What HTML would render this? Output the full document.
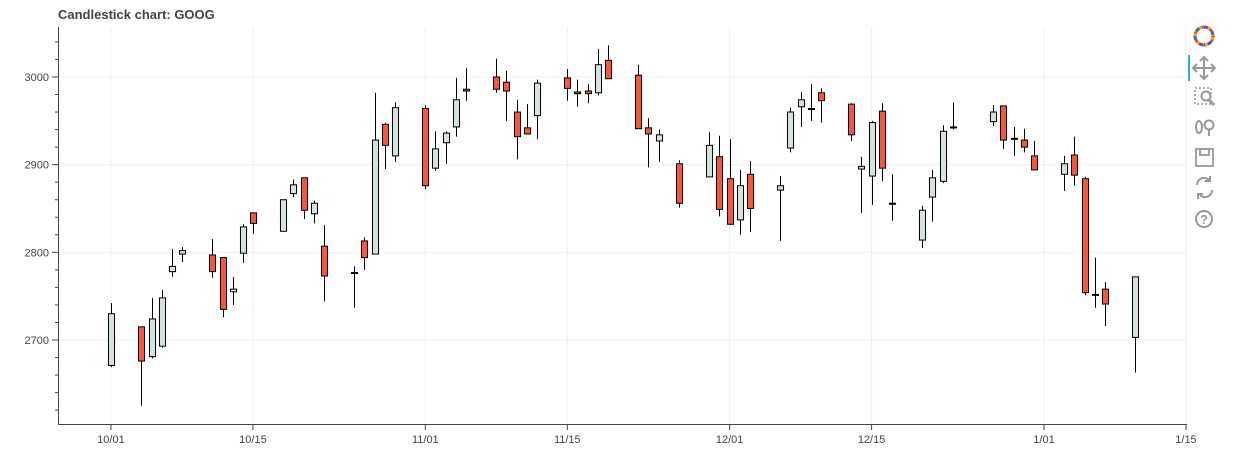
<!DOCTYPE html>
<html><head><meta charset="utf-8"><style>
body{margin:0;background:#fff;width:1238px;height:464px;overflow:hidden;font-family:"Liberation Sans",sans-serif}
</style></head><body>
<svg id="chart" width="1238" height="464" xmlns="http://www.w3.org/2000/svg" font-family="Liberation Sans, sans-serif">
<text x="58" y="19" font-size="13" font-weight="bold" fill="#444">Candlestick chart: GOOG</text>
<g id="grid"></g>
<g id="candles"></g>
<g id="axes"></g>
<g>
 <g transform="translate(1204,36)">
  <circle r="9" fill="none" stroke="#e04" stroke-width="3" stroke-dasharray="5 4"/>
  <circle r="9" fill="none" stroke="#3b9" stroke-width="3" stroke-dasharray="4 5" stroke-dashoffset="4"/>
  <circle r="9" fill="none" stroke="#fa0" stroke-width="3" stroke-dasharray="3 6" stroke-dashoffset="8"/>
  <circle r="9" fill="none" stroke="#36c" stroke-width="3" stroke-dasharray="3 6" stroke-dashoffset="12"/>
 </g>
 <rect x="1188" y="55" width="2" height="26" fill="#26aae1"/>
 <g stroke="#999" stroke-width="2" fill="none"><path d="M1204 58v20M1194 68h20M1200 61l4-4 4 4M1200 75l4 4 4-4M1197 64l-4 4 4 4M1211 64l4 4-4 4"/></g>
 <g stroke="#999" stroke-width="1.5" fill="none"><rect x="1195" y="88" width="16" height="16" stroke-dasharray="2 2"/><circle cx="1206" cy="96" r="4.5" stroke-width="2"/><path d="M1209 100l5 5" stroke-width="3"/></g>
 <g stroke="#999" stroke-width="2" fill="none"><ellipse cx="1199" cy="127" rx="3" ry="6"/><circle cx="1209" cy="125" r="4.5"/><path d="M1209 130v6"/></g>
 <g stroke="#999" stroke-width="1.8" fill="none"><rect x="1196" y="149" width="17" height="17"/><rect x="1200" y="149" width="9" height="6"/></g>
 <g stroke="#999" stroke-width="2" fill="none"><path d="M1197 185a7 7 0 0 1 12-5M1212 190a7 7 0 0 1-12 5"/><path d="M1210 176v5h-5M1198 199v-5h5"/></g>
 <g><circle cx="1204" cy="219" r="8" fill="none" stroke="#999" stroke-width="2"/><text x="1204" y="224" text-anchor="middle" font-size="13" font-weight="bold" fill="#999">?</text></g>
</g>
</svg>
<script>
const dates=["2021-10-01","2021-10-04","2021-10-05","2021-10-06","2021-10-07","2021-10-08","2021-10-11","2021-10-12","2021-10-13","2021-10-14","2021-10-15","2021-10-18","2021-10-19","2021-10-20","2021-10-21","2021-10-22","2021-10-25","2021-10-26","2021-10-27","2021-10-28","2021-10-29","2021-11-01","2021-11-02","2021-11-03","2021-11-04","2021-11-05","2021-11-08","2021-11-09","2021-11-10","2021-11-11","2021-11-12","2021-11-15","2021-11-16","2021-11-17","2021-11-18","2021-11-19","2021-11-22","2021-11-23","2021-11-24","2021-11-26","2021-11-29","2021-11-30","2021-12-01","2021-12-02","2021-12-03","2021-12-06","2021-12-07","2021-12-08","2021-12-09","2021-12-10","2021-12-13","2021-12-14","2021-12-15","2021-12-16","2021-12-17","2021-12-20","2021-12-21","2021-12-22","2021-12-23","2021-12-27","2021-12-28","2021-12-29","2021-12-30","2021-12-31","2022-01-03","2022-01-04","2022-01-05","2022-01-06","2022-01-07","2022-01-10"];
const opens=[2671,2715,2681,2693,2778,2798,2797,2794,2755,2799,2845,2824,2867,2885,2844,2807,2776,2813,2798,2946,2910,2964,2896,2925,2943,2986,3000,2994,2960,2942,2956,2999,2983,2984,2982,3019,3002,2942,2927,2901,2886,2909,2884,2837,2889,2871,2919,2966,2963,2982,2969,2895,2887,2961,2856,2814,2863,2881,2942,2949,2967,2930,2928,2910,2889,2911,2884,2752,2758,2703];
const highs=[2742,2715,2748,2757,2804,2806,2815,2794,2772,2832,2845,2860,2883,2885,2859,2831,2784,2817,2982,2948,2971,2968,2938,2938,2999,3010,3021,3007,2974,2969,2997,3009,2997,2992,3032,3036,3014,2953,2940,2905,2937,2933,2929,2894,2904,2887,2965,2983,2992,2987,2970,2909,2950,2970,2889,2853,2894,2945,2971,2968,2967,2943,2941,2927,2910,2932,2886,2794,2766,2772];
const lows=[2669,2625,2679,2691,2772,2789,2771,2726,2740,2788,2821,2824,2863,2838,2833,2744,2737,2780,2798,2895,2903,2872,2893,2901,2932,2973,2982,2950,2906,2935,2929,2973,2966,2970,2979,2998,2941,2897,2903,2851,2886,2841,2831,2820,2823,2813,2914,2943,2950,2948,2927,2845,2854,2881,2836,2805,2835,2879,2940,2944,2918,2910,2914,2894,2870,2876,2751,2737,2716,2663];
const closes=[2730,2676,2724,2748,2784,2802,2778,2735,2758,2829,2833,2860,2877,2848,2856,2773,2777,2794,2928,2922,2965,2876,2918,2936,2974,2984,2986,2984,2932,2935,2993,2987,2981,2981,3014,2998,2941,2935,2934,2856,2922,2849,2832,2876,2850,2876,2960,2974,2964,2973,2934,2898,2948,2896,2855,2848,2885,2938,2943,2960,2928,2929,2920,2894,2901,2888,2754,2751,2741,2772];
const yTicks=[2700,2800,2900,3000];
const xTickLabels=["10/01","10/15","11/01","11/15","12/01","12/15","1/01","1/15"];
const xTickDates=["2021-10-01","2021-10-15","2021-11-01","2021-11-15","2021-12-01","2021-12-15","2022-01-01","2022-01-15"];

const NS="http://www.w3.org/2000/svg";
const L=58,R=1187,T=27,B=424;
const DAY=86400000;
const t0=Date.parse("2021-10-01");
const xMin=-5.22,xMax=106.1;
function x(d){const v=(Date.parse(d)-t0)/DAY;return L+(v-xMin)/(xMax-xMin)*(R-L);}
const yMin=2604.2,yMax=3057;
function y(v){return B-(v-yMin)/(yMax-yMin)*(B-T);}
function mk(tag,attrs,parent){const e=document.createElementNS(NS,tag);for(const k in attrs)e.setAttribute(k,attrs[k]);parent.appendChild(e);return e;}
const grid=document.getElementById('grid'),cg=document.getElementById('candles'),ax=document.getElementById('axes');
yTicks.forEach(v=>{
 const g=mk('line',{x1:L,x2:R,y1:y(v),y2:y(v),stroke:'#f0f0f0'},grid);
 
 
 const tk=mk('line',{x1:L-6,x2:L,y1:y(v),y2:y(v),stroke:'#444'},ax);
 
 
 const t=mk('text',{x:L-9,y:y(v)+4,'text-anchor':'end','font-size':'11',fill:'#444'},ax);
 t.textContent=v;
 
 
});
for(let v=2620;v<3057;v+=20){if(v%100===0)continue;const m=mk('line',{x1:L-3,x2:L,y1:y(v),y2:y(v),stroke:'#444'},ax);
 
 }
xTickDates.forEach((d,i)=>{
 const g=mk('line',{x1:x(d),x2:x(d),y1:T,y2:B,stroke:'#f0f0f0'},grid);
 
 
 const tk=mk('line',{x1:x(d),x2:x(d),y1:B,y2:B+6,stroke:'#444'},ax);
 
 
 const t=mk('text',{x:x(d),y:B+19,'text-anchor':'middle','font-size':'11',fill:'#444'},ax);
 t.textContent=xTickLabels[i];
 
 
});
const la=mk('line',{x1:L+0.5,x2:L+0.5,y1:T,y2:B,stroke:'#444'},ax);


const ba=mk('line',{x1:L,x2:R,y1:B+0.5,y2:B+0.5,stroke:'#444'},ax);


const w=0.6*(x("2021-10-02")-x("2021-10-01"));
dates.forEach((d,i)=>{
 const cx=Math.round(x(d))+0.5;
 const wk=mk('line',{x1:cx,x2:cx,y1:y(highs[i]),y2:y(lows[i]),stroke:'#000','stroke-width':1},cg);
 
 
 const up=closes[i]>=opens[i];
 const top=y(Math.max(opens[i],closes[i])),bot=y(Math.min(opens[i],closes[i]));
 const r=mk('rect',{x:cx-w/2,y:top,width:w,height:Math.max(bot-top,1),fill:up?'#D5E1DD':'#F2583E',stroke:'#000','stroke-width':1},cg);
 
 
});
</script>
</body></html>
